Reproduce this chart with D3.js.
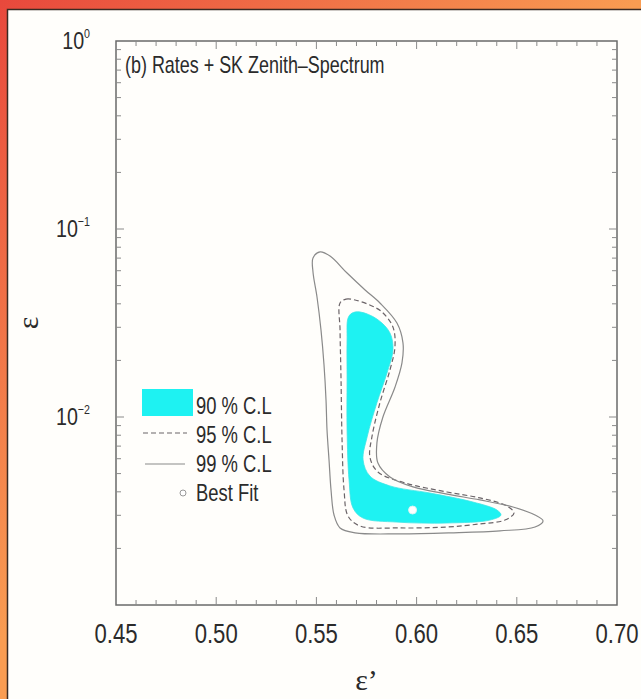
<!DOCTYPE html>
<html>
<head>
<meta charset="utf-8">
<script src="https://cdn.jsdelivr.net/npm/d3@7"></script>
<style>
  html, body { margin: 0; padding: 0; background: #fff; }
  svg { display: block; }
  text { font-family: "Liberation Sans", Arial, sans-serif; fill: #2b2b2b; }
</style>
</head>
<body>
<div class="chart"></div>
<script>
var svgWidth = 641;
var svgHeight = 699;

var margin = {
  top: 41,
  right: 24,
  bottom: 94,
  left: 116
};

var width = svgWidth - margin.left - margin.right;
var height = svgHeight - margin.top - margin.bottom;

// tick values / labels
var xTickValues = [0.45, 0.50, 0.55, 0.60, 0.65, 0.70];
var yTickExponents = [0, -1, -2];

// contours, [eps', eps]
var cl99 = [
  [0.5483, 0.0701], [0.5518, 0.0755], [0.5568, 0.0718], [0.5653, 0.0583],
  [0.5743, 0.0474], [0.5817, 0.0404], [0.5902, 0.0316], [0.5932, 0.0248],
  [0.5927, 0.0194], [0.5892, 0.0144], [0.5832, 0.0100], [0.5802, 0.00728],
  [0.5807, 0.00569], [0.5867, 0.00480], [0.5982, 0.00425], [0.6152, 0.00389],
  [0.6316, 0.00362], [0.6481, 0.00332], [0.6591, 0.00301], [0.6631, 0.00280],
  [0.6591, 0.00260], [0.6416, 0.00248], [0.6167, 0.00242], [0.5917, 0.00239],
  [0.5693, 0.00242], [0.5618, 0.00257], [0.5588, 0.00301], [0.5573, 0.00409],
  [0.5563, 0.00591], [0.5553, 0.00853], [0.5548, 0.0123], [0.5538, 0.0189],
  [0.5523, 0.0290], [0.5503, 0.0435], [0.5483, 0.0591]
];

var cl95 = [
  [0.5618, 0.0404], [0.5648, 0.0424], [0.5693, 0.0419], [0.5767, 0.0394],
  [0.5827, 0.0362], [0.5882, 0.0301], [0.5892, 0.0236], [0.5867, 0.0178],
  [0.5817, 0.0119], [0.5777, 0.00783], [0.5767, 0.00612], [0.5807, 0.00510],
  [0.5942, 0.00446], [0.6152, 0.00399], [0.6316, 0.00371], [0.6441, 0.00340],
  [0.6486, 0.00309], [0.6441, 0.00283], [0.6316, 0.00270], [0.6152, 0.00260],
  [0.5917, 0.00257], [0.5718, 0.00263], [0.5658, 0.00297], [0.5638, 0.00409],
  [0.5628, 0.00755], [0.5623, 0.0157], [0.5618, 0.0290]
];

var cl90 = [
  [0.5658, 0.0336], [0.5678, 0.0357], [0.5718, 0.0362], [0.5802, 0.0332],
  [0.5867, 0.0280], [0.5882, 0.0227], [0.5852, 0.0171], [0.5802, 0.0119],
  [0.5753, 0.00783], [0.5733, 0.00591], [0.5767, 0.00485], [0.5867, 0.00430],
  [0.6067, 0.00394], [0.6281, 0.00353], [0.6401, 0.00320], [0.6421, 0.00301],
  [0.6366, 0.00283], [0.6152, 0.00273], [0.5902, 0.00276], [0.5733, 0.00290],
  [0.5683, 0.00328], [0.5663, 0.00462], [0.5653, 0.00853], [0.5653, 0.0157],
  [0.5653, 0.0257]
];

var bestFit = [0.598, 0.00320];

var legendLabels = ["90 % C.L", "95 % C.L", "99 % C.L", "Best Fit"];

var svg = d3.select(".chart")
  .append("svg")
  .attr("width", svgWidth)
  .attr("height", svgHeight);

// narrow helvetica look: squeeze the text sideways
function narrowText(parent, x, y, str, size, sx, anchor) {
  var g = parent.append("g").attr("transform", `translate(${x}, ${y})`);
  var t = g.append("text")
    .attr("transform", `scale(${sx}, 1)`)
    .attr("text-anchor", anchor || "start")
    .style("font-size", size + "px");
  if (str !== null) t.text(str);
  return t;
}

// orange frame round the white panel
var grad = svg.append("defs").append("linearGradient")
  .attr("id", "frameGrad")
  .attr("gradientUnits", "userSpaceOnUse")
  .attr("x1", 0).attr("y1", 0).attr("x2", 320).attr("y2", 320);
grad.append("stop").attr("offset", "0%").attr("stop-color", "#e8483c");
grad.append("stop").attr("offset", "100%").attr("stop-color", "#f99c52");

svg.append("rect")
  .attr("width", svgWidth).attr("height", svgHeight)
  .attr("fill", "url(#frameGrad)");

svg.append("rect")
  .attr("x", 7.5).attr("y", 9.5)
  .attr("width", svgWidth).attr("height", svgHeight)
  .attr("fill", "#fffefb")
  .attr("stroke", "#3a2a22")
  .attr("stroke-width", 1.5);

var chartGroup = svg.append("g")
  .attr("transform", `translate(${margin.left}, ${margin.top})`);

var xScale = d3.scaleLinear().domain([0.45, 0.70]).range([0, width]);
var yScale = d3.scaleLog().domain([1e-3, 1]).range([height, 0]);

// contours
var contour = d3.line()
  .x(d => xScale(d[0]))
  .y(d => yScale(d[1]))
  .curve(d3.curveCatmullRomClosed.alpha(0.5));

chartGroup.append("path")
  .attr("d", contour(cl90))
  .attr("fill", "#1ef2f2")
  .attr("stroke", "#3ee6e6")
  .attr("stroke-width", 0.8);

chartGroup.append("path")
  .attr("d", contour(cl95))
  .attr("fill", "none")
  .attr("stroke", "#6b6468")
  .attr("stroke-width", 1.2)
  .attr("stroke-dasharray", "5,3");

chartGroup.append("path")
  .attr("d", contour(cl99))
  .attr("fill", "none")
  .attr("stroke", "#8a8a8a")
  .attr("stroke-width", 1.2);

chartGroup.append("circle")
  .attr("cx", xScale(bestFit[0]))
  .attr("cy", yScale(bestFit[1]))
  .attr("r", 4)
  .attr("fill", "#fff")
  .attr("stroke", "#d8f4f4")
  .attr("stroke-width", 1);

// frame
chartGroup.append("rect")
  .attr("width", width).attr("height", height)
  .attr("fill", "none")
  .attr("stroke", "#6a6a6a")
  .attr("stroke-width", 1.5);

// x ticks, inward on bottom and top
var xMinor = d3.range(46, 70).map(v => v / 100);
var tickColor = "#8a8a8a";
xMinor.forEach(function(v) {
  var big = Math.abs(v * 20 - Math.round(v * 20)) < 1e-6;
  var len = big ? 8 : 5;
  chartGroup.append("line")
    .attr("x1", xScale(v)).attr("x2", xScale(v))
    .attr("y1", height).attr("y2", height - len)
    .attr("stroke", tickColor);
  chartGroup.append("line")
    .attr("x1", xScale(v)).attr("x2", xScale(v))
    .attr("y1", 0).attr("y2", len)
    .attr("stroke", tickColor);
});

// y ticks, log minor ones
for (var e = -3; e < 0; e++) {
  for (var m = 1; m < 10; m++) {
    var v = m * Math.pow(10, e);
    if (m === 1 && e === -3) continue;
    var len = m === 1 ? 8 : 5;
    chartGroup.append("line")
      .attr("x1", 0).attr("x2", len)
      .attr("y1", yScale(v)).attr("y2", yScale(v))
      .attr("stroke", tickColor);
    chartGroup.append("line")
      .attr("x1", width).attr("x2", width - len)
      .attr("y1", yScale(v)).attr("y2", yScale(v))
      .attr("stroke", tickColor);
  }
}

// tick labels
xTickValues.forEach(function(d) {
  narrowText(chartGroup, xScale(d), height + 38, d.toFixed(2), 28, 0.79, "middle");
});

yTickExponents.forEach(function(d) {
  var t = narrowText(chartGroup, -26, yScale(Math.pow(10, d)) + 8, null, 24, 0.82, "end");
  t.append("tspan").text("10");
  t.append("tspan")
    .attr("dy", -11)
    .style("font-size", "13px")
    .text(d === 0 ? "0" : "\u2212" + (-d));
});

// axis titles
chartGroup.append("text")
  .attr("x", width / 2)
  .attr("y", height + 85)
  .attr("text-anchor", "middle")
  .style("font-family", "'Liberation Serif', serif")
  .style("font-size", "30px")
  .text("\u03b5\u2019");

chartGroup.append("text")
  .attr("transform", `translate(${-78}, ${height / 2}) rotate(-90)`)
  .attr("text-anchor", "middle")
  .style("font-family", "'Liberation Serif', serif")
  .style("font-size", "30px")
  .text("\u03b5");

// panel title
narrowText(chartGroup, 9, 32, "(b) Rates + SK Zenith\u2013Spectrum", 23, 0.78);

// legend
var legend = svg.append("g").attr("transform", "translate(142, 389)");
legend.append("rect")
  .attr("width", 51).attr("height", 27)
  .attr("fill", "#1ef2f2");
legend.append("line")
  .attr("x1", 1).attr("x2", 45).attr("y1", 44).attr("y2", 44)
  .attr("stroke", "#6b6468").attr("stroke-width", 1.2)
  .attr("stroke-dasharray", "5,3");
legend.append("line")
  .attr("x1", 3).attr("x2", 43).attr("y1", 75).attr("y2", 75)
  .attr("stroke", "#8a8a8a").attr("stroke-width", 1.2);
legend.append("circle")
  .attr("cx", 41).attr("cy", 104).attr("r", 3)
  .attr("fill", "#fff").attr("stroke", "#999");
legendLabels.forEach(function(d, i) {
  narrowText(legend, 54, 25 + i * 29, d, 23, 0.8);
});
</script>
</body>
</html>
